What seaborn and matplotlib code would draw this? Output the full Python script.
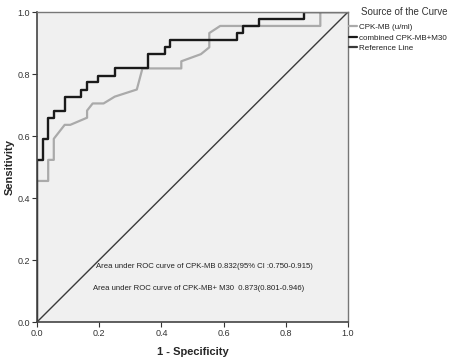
import matplotlib
matplotlib.use("Agg")
import matplotlib.pyplot as plt
import seaborn as sns
import pandas as pd
from matplotlib.lines import Line2D

sns.set_theme(style="white")
plt.rcParams['font.family'] = ['Liberation Sans', 'DejaVu Sans']

# ROC curve for CPK-MB (u/ml)
cpk_fpr = [0.0, 0.0, 0.036, 0.036, 0.054, 0.054, 0.089, 0.107, 0.161, 0.161, 0.179, 0.214,
           0.25, 0.321, 0.339, 0.464, 0.464, 0.527, 0.554, 0.554, 0.589, 0.911, 0.911, 1.0]
cpk_tpr = [0.0, 0.455, 0.455, 0.523, 0.523, 0.591, 0.636, 0.636, 0.659, 0.682, 0.705, 0.705,
           0.727, 0.75, 0.818, 0.818, 0.841, 0.864, 0.886, 0.932, 0.955, 0.955, 1.0, 1.0]

# ROC curve for combined CPK-MB+M30
comb_fpr = [0.0, 0.0, 0.018, 0.018, 0.036, 0.036, 0.054, 0.054, 0.089, 0.089, 0.143, 0.143,
            0.161, 0.161, 0.196, 0.196, 0.25, 0.25, 0.357, 0.357, 0.411, 0.411, 0.429, 0.429,
            0.643, 0.643, 0.661, 0.661, 0.714, 0.714, 0.857, 0.857, 1.0]
comb_tpr = [0.0, 0.523, 0.523, 0.591, 0.591, 0.659, 0.659, 0.682, 0.682, 0.727, 0.727, 0.75,
            0.75, 0.773, 0.773, 0.795, 0.795, 0.818, 0.818, 0.864, 0.864, 0.886, 0.886, 0.909,
            0.909, 0.932, 0.932, 0.955, 0.955, 0.977, 0.977, 1.0, 1.0]

ref_x = [0.0, 1.0]
ref_y = [0.0, 1.0]

series_names = ["CPK-MB (u/ml)", "combined CPK-MB+M30", "Reference Line"]
series_colors = ["#aaaaaa", "#1a1a1a", "#3a3a3a"]
series_widths = [1.6, 1.7, 1.0]

auc_texts = ["Area under ROC curve of CPK-MB 0.832(95% CI :0.750-0.915)",
             "Area under ROC curve of CPK-MB+ M30  0.873(0.801-0.946)"]

ticks = [0.0, 0.2, 0.4, 0.6, 0.8, 1.0]
tick_labels = ["0.0", "0.2", "0.4", "0.6", "0.8", "1.0"]

df = pd.concat([
    pd.DataFrame({"x": cpk_fpr, "y": cpk_tpr, "s": series_names[0], "o": range(len(cpk_fpr))}),
    pd.DataFrame({"x": comb_fpr, "y": comb_tpr, "s": series_names[1], "o": range(len(comb_fpr))}),
    pd.DataFrame({"x": ref_x, "y": ref_y, "s": series_names[2], "o": range(len(ref_x))}),
])

fig = plt.figure(figsize=(4.59, 3.60), dpi=100)
ax = fig.add_axes([37/459, 38/360, 311/459, 310/360])
ax.set_facecolor("#f0f0f0")

for name, col, lw in [(series_names[2], series_colors[2], series_widths[2]),
                      (series_names[0], series_colors[0], series_widths[0]),
                      (series_names[1], series_colors[1], series_widths[1])]:
    sub = df[df["s"] == name]
    sns.lineplot(data=sub, x="x", y="y", sort=False, estimator=None, color=col,
                 linewidth=lw, ax=ax, legend=False)

ax.set_xlim(0, 1)
ax.set_ylim(0, 1)
ax.set_xticks(ticks)
ax.set_xticklabels(tick_labels)
ax.set_yticks(ticks)
ax.set_yticklabels(tick_labels)
ax.tick_params(axis="both", which="both", direction="out", length=3.5, width=0.8,
               color="#333333", labelsize=6.5, labelcolor="#333333", pad=1.5,
               bottom=True, left=True)
for side in ["left", "bottom"]:
    ax.spines[side].set_color("#444444")
    ax.spines[side].set_linewidth(1.2)
for side in ["top", "right"]:
    ax.spines[side].set_color("#777777")
    ax.spines[side].set_linewidth(1.0)

ax.set_xlabel("1 - Specificity", fontsize=8, fontweight="bold")
ax.set_ylabel("Sensitivity", fontsize=8, fontweight="bold")
ax.xaxis.set_label_coords(0.5, -0.08)
ax.yaxis.set_label_coords(-0.071, 0.5)

ax.text(0.19, 0.178, auc_texts[0], fontsize=5.6, color="#222222", transform=ax.transAxes,
        va="center", ha="left")
ax.text(0.18, 0.108, auc_texts[1], fontsize=5.6, color="#222222", transform=ax.transAxes,
        va="center", ha="left")

handles = [Line2D([0], [0], color=c, lw=1.6) for c in series_colors]
leg = fig.legend(handles, series_names, loc="upper left", bbox_to_anchor=(347/459, 1 - 5/360),
                 frameon=False, fontsize=5.8, title="Source of the Curve", title_fontsize=7,
                 handlelength=1.0, handletextpad=0.3, labelspacing=0.35, borderaxespad=0,
                 borderpad=0.2)
leg._legend_box.align = "left"
leg._legend_box.sep = 5
for t in leg.get_texts():
    t.set_color("#222222")
leg.get_title().set_color("#333333")
leg.get_title().set_position((12, 0))

fig.savefig("out.png", dpi=100)
